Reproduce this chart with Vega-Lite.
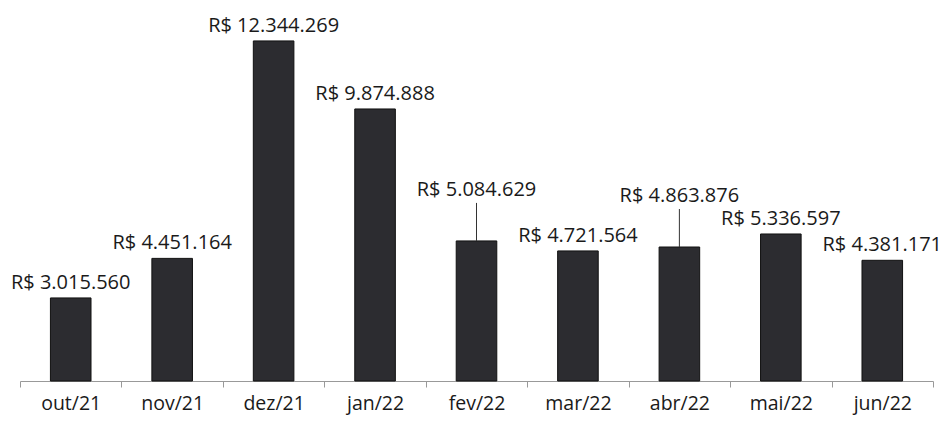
{
  "$schema": "https://vega.github.io/schema/vega-lite/v6.json",
  "autosize": {"type": "none"},
  "width": 913,
  "height": 381,
  "padding": {"left": 20, "top": 0, "right": 19, "bottom": 40},
  "background": "white",
  "config": {"view": {"stroke": null}, "font": "Open Sans"},
  "data": {"values": [
    {"mes": "out/21", "valor": 3015560, "rotulo": "R$ 3.015.560", "linha": false},
    {"mes": "nov/21", "valor": 4451164, "rotulo": "R$ 4.451.164", "linha": false},
    {"mes": "dez/21", "valor": 12344269, "rotulo": "R$ 12.344.269", "linha": false},
    {"mes": "jan/22", "valor": 9874888, "rotulo": "R$ 9.874.888", "linha": false},
    {"mes": "fev/22", "valor": 5084629, "rotulo": "R$ 5.084.629", "linha": true},
    {"mes": "mar/22", "valor": 4721564, "rotulo": "R$ 4.721.564", "linha": false},
    {"mes": "abr/22", "valor": 4863876, "rotulo": "R$ 4.863.876", "linha": true},
    {"mes": "mai/22", "valor": 5336597, "rotulo": "R$ 5.336.597", "linha": false},
    {"mes": "jun/22", "valor": 4381171, "rotulo": "R$ 4.381.171", "linha": false}
  ]},
  "encoding": {
    "x": {
      "field": "mes", "type": "nominal", "sort": null,
      "scale": {"paddingInner": 0, "paddingOuter": 0},
      "axis": {
        "title": null, "labelAngle": 0, "labelFontSize": 19.5, "labelColor": "#1a1a1a",
        "labelPadding": 7, "tickBand": "extent", "tickSize": 6, "tickColor": "#999",
        "domainColor": "#999", "domainWidth": 1.2, "grid": false
      }
    },
    "y": {
      "field": "valor", "type": "quantitative",
      "scale": {"domain": [0, 13830000], "nice": false},
      "axis": null
    }
  },
  "layer": [
    {"mark": {"type": "bar", "width": {"band": 0.4}, "color": "#2c2c30", "stroke": "#111", "strokeWidth": 1}},
    {
      "transform": [{"filter": "!datum.linha"}],
      "mark": {"type": "text", "baseline": "bottom", "dy": -5, "fontSize": 20, "color": "#1a1a1a"},
      "encoding": {"text": {"field": "rotulo"}}
    },
    {
      "transform": [{"filter": "datum.linha"}],
      "mark": {"type": "text", "baseline": "bottom", "dy": -41, "fontSize": 20, "color": "#1a1a1a"},
      "encoding": {"text": {"field": "rotulo"}}
    },
    {
      "transform": [{"filter": "datum.linha"}],
      "mark": {"type": "rule", "color": "#333", "strokeWidth": 1, "y2Offset": -38},
      "encoding": {"y2": {"field": "valor"}}
    }
  ]
}
